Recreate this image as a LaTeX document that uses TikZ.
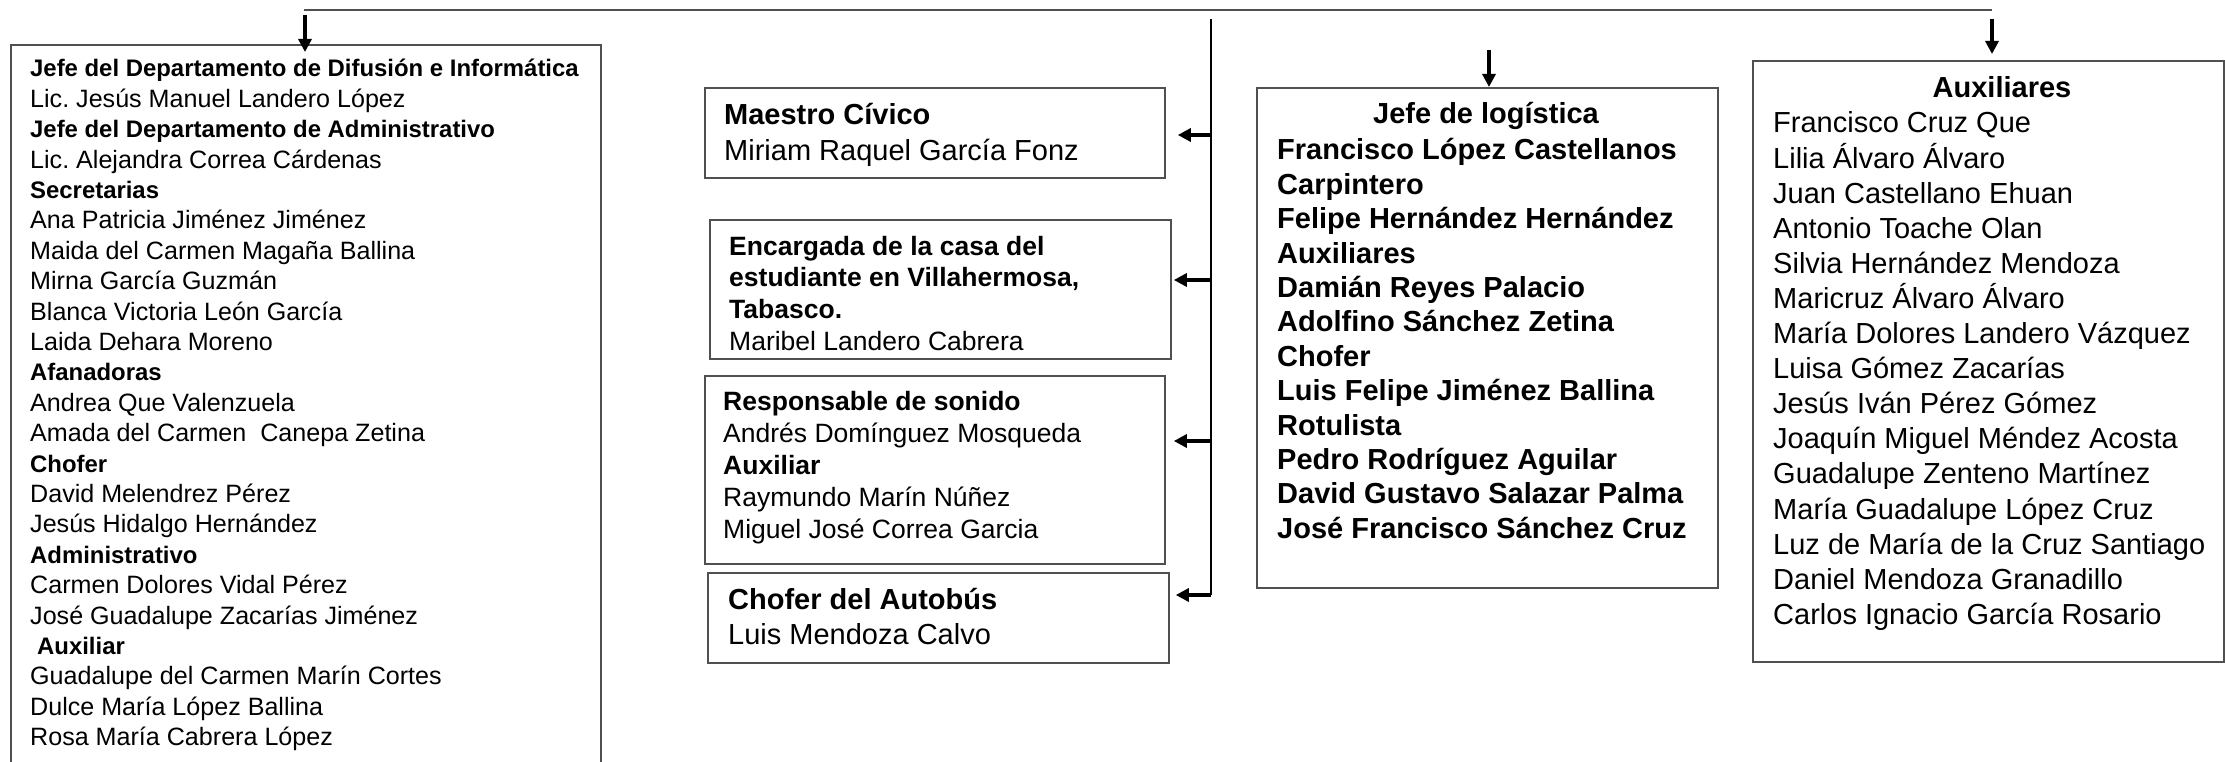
\documentclass[tikz,border=0pt]{standalone}
\usepackage{fontspec}
\setmainfont{Liberation Sans}
\usetikzlibrary{arrows.meta}
\definecolor{boxgray}{RGB}{80,80,80}
\newcommand\stk[1]{\vtop{\halign{##\hfil\cr#1\crcr}}}
\newcommand\lb[1]{{\fontsize{23.9pt}{30.4pt}\selectfont\bfseries #1}}
\frenchspacing
\begin{document}
\begin{tikzpicture}[x=1pt,y=1pt,
  box/.style={draw=boxgray, line width=1.8pt, rectangle, inner sep=0pt, anchor=north west},
  txt/.style={anchor=base west, inner sep=0pt},
  ttl/.style={anchor=base, inner sep=0pt, font={\fontsize{29pt}{35pt}\selectfont\bfseries}},
  arr/.style={line width=3.2pt, -{Triangle[length=13pt,width=13pt]}},
  vline/.style={line width=1.8pt, black},
  topline/.style={line width=1.5pt, boxgray},
]
\useasboundingbox (0,0) rectangle (2225,-762);

% boxes
\node[box, minimum width=590pt, minimum height=730pt] (dept) at (10,-44) {};
\node[box, minimum width=460pt, minimum height=90pt] (maestro) at (704,-87) {};
\node[box, minimum width=461pt, minimum height=139pt] (casa) at (709,-219) {};
\node[box, minimum width=460pt, minimum height=188pt] (sonido) at (704,-375) {};
\node[box, minimum width=461pt, minimum height=90pt] (chofer) at (707,-572) {};
\node[box, minimum width=461pt, minimum height=500pt] (logi) at (1256,-87) {};
\node[box, minimum width=471pt, minimum height=601pt] (aux) at (1752,-60) {};

% texts
\node[txt, font={\fontsize{25.1pt}{30.4pt}\selectfont}] (depttxt) at (30,-77) {\stk{%
\lb{Jefe del Departamento de Difusión e Informática}\cr
Lic. Jesús Manuel Landero López\cr
\lb{Jefe del Departamento de Administrativo}\cr
Lic. Alejandra Correa Cárdenas\cr
\lb{Secretarias}\cr
Ana Patricia Jiménez Jiménez\cr
Maida del Carmen Magaña Ballina\cr
Mirna García Guzmán\cr
Blanca Victoria León García\cr
Laida Dehara Moreno\cr
\lb{Afanadoras}\cr
Andrea Que Valenzuela\cr
Amada del Carmen\ \ Canepa Zetina\cr
\lb{Chofer}\cr
David Melendrez Pérez\cr
Jesús Hidalgo Hernández\cr
\lb{Administrativo}\cr
Carmen Dolores Vidal Pérez\cr
José Guadalupe Zacarías Jiménez\cr
\hspace*{7pt}\lb{Auxiliar}\cr
Guadalupe del Carmen Marín Cortes\cr
Dulce María López Ballina\cr
Rosa María Cabrera López}};

\node[txt, font={\fontsize{29pt}{36pt}\selectfont}] (maestrotxt) at (724,-125) {\stk{%
\textbf{Maestro Cívico}\cr
Miriam Raquel García Fonz}};

\node[txt, font={\fontsize{26.5pt}{31.7pt}\selectfont}] (casatxt) at (729,-255) {\stk{%
\textbf{Encargada de la casa del}\cr
\textbf{estudiante en Villahermosa,}\cr
\textbf{Tabasco.}\cr
Maribel Landero Cabrera}};

\node[txt, font={\fontsize{26.5pt}{32pt}\selectfont}] (sonidotxt) at (723,-410) {\stk{%
\textbf{Responsable de sonido}\cr
Andrés Domínguez Mosqueda\cr
\textbf{Auxiliar}\cr
Raymundo Marín Núñez\cr
Miguel José Correa Garcia}};

\node[txt, font={\fontsize{29pt}{35pt}\selectfont}] (chofertxt) at (728,-609) {\stk{%
\textbf{Chofer del Autobús}\cr
Luis Mendoza Calvo}};

\node[ttl] (logititle) at (1486,-124) {Jefe de logística};
\node[txt, font={\fontsize{29pt}{34.4pt}\selectfont\bfseries}] (logitxt) at (1277,-160) {\stk{%
Francisco López Castellanos\cr
Carpintero\cr
Felipe Hernández Hernández\cr
Auxiliares\cr
Damián Reyes Palacio\cr
Adolfino Sánchez Zetina\cr
Chofer\cr
Luis Felipe Jiménez Ballina\cr
Rotulista\cr
Pedro Rodríguez Aguilar\cr
David Gustavo Salazar Palma\cr
José Francisco Sánchez Cruz}};

\node[ttl] (auxtitle) at (2002,-98) {Auxiliares};
\node[txt, font={\fontsize{29pt}{35.1pt}\selectfont}] (auxtxt) at (1773,-133) {\stk{%
Francisco Cruz Que\cr
Lilia Álvaro Álvaro\cr
Juan Castellano Ehuan\cr
Antonio Toache Olan\cr
Silvia Hernández Mendoza\cr
Maricruz Álvaro Álvaro\cr
María Dolores Landero Vázquez\cr
Luisa Gómez Zacarías\cr
Jesús Iván Pérez Gómez\cr
Joaquín Miguel Méndez Acosta\cr
Guadalupe Zenteno Martínez\cr
María Guadalupe López Cruz\cr
Luz de María de la Cruz Santiago\cr
Daniel Mendoza Granadillo\cr
Carlos Ignacio García Rosario}};

% connectors
\coordinate (tl) at (304,-10);
\coordinate (tr) at (1992,-10);
\draw[topline] (tl) -- (tr);

\coordinate (a1) at (305,-15);
\coordinate (a2) at (1489,-50);
\coordinate (a3) at (1992,-19);
\draw[arr] (a1) -- ([yshift=-8pt]a1 |- dept.north);
\draw[arr] (a2) -- (a2 |- logi.north);
\draw[arr] (a3) -- ([yshift=6pt]a3 |- aux.north);

\coordinate (vt) at (1211,-19);
\coordinate (vb) at (1211,-595);
\coordinate (b1) at (1211,-135);
\coordinate (b2) at (1211,-280);
\coordinate (b3) at (1211,-441);
\draw[vline] (vt) -- (vb);
\draw[arr] (b1) -- ([xshift=12pt]b1 -| maestro.east);
\draw[arr] (b2) -- ([xshift=2pt]b2 -| casa.east);
\draw[arr] (b3) -- ([xshift=8pt]b3 -| sonido.east);
\draw[arr] (vb) -- ([xshift=6pt]vb -| chofer.east);
\end{tikzpicture}
\end{document}
